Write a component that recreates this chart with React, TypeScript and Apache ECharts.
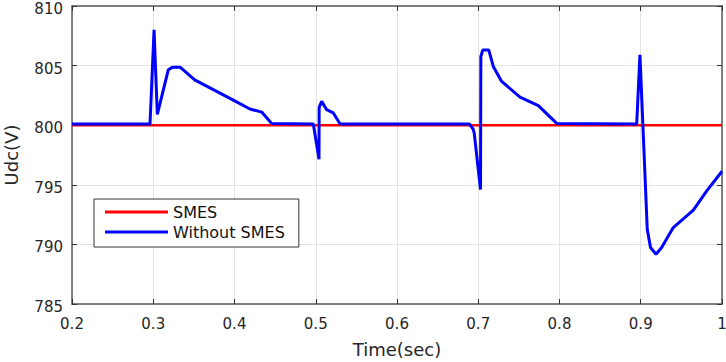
import React, { useEffect, useRef } from "react";
import * as echarts from "echarts";

const xTicks = [0.2, 0.3, 0.4, 0.5, 0.6, 0.7, 0.8, 0.9, 1.0];
const yTicks = [785, 790, 795, 800, 805, 810];

const smesTime = [0.2, 1.0];
const smesValues = [800, 800];

const withoutTime = [
  0.2, 0.296, 0.301, 0.305, 0.3185, 0.324, 0.333, 0.351, 0.3985, 0.419, 0.4335, 0.4457,
  0.497, 0.504, 0.5042, 0.5073, 0.5134, 0.5216, 0.53,
  0.689, 0.6935, 0.695, 0.7028, 0.7032, 0.7055, 0.713, 0.7185, 0.7288, 0.7514, 0.7739, 0.7966,
  0.895, 0.899, 0.908, 0.912, 0.9188, 0.9257, 0.94, 0.9647, 0.981, 1.0,
];
const withoutValues = [
  800.1, 800.1, 808.0, 800.9, 804.65, 804.87, 804.87, 803.8, 802.1, 801.36, 801.1, 800.15,
  800.1, 797.15, 801.5, 802.0, 801.3, 801.03, 800.1,
  800.1, 799.7, 799.35, 794.6, 805.76, 806.3, 806.3, 804.93, 803.67, 802.36, 801.64, 800.15,
  800.1, 805.9, 791.27, 789.74, 789.18, 789.74, 791.41, 792.88, 794.47, 796.14,
];

const FONT = "DejaVu Sans";
const TEXT = "#262626";
const AXIS = "#5a5a5a";

export default function App() {
  const ref = useRef<HTMLDivElement>(null);
  useEffect(() => {
    if (!ref.current) return;
    const chart = echarts.init(ref.current, undefined, { renderer: "svg" });
    const xMin = xTicks[0];
    const xMax = xTicks[xTicks.length - 1];
    const yMin = yTicks[0];
    const yMax = yTicks[yTicks.length - 1];
    const fmtX = (v: number) => String(Math.round(v * 10) / 10);
    const splitLine = { show: true, lineStyle: { color: "#e3e3e3", width: 1 } };
    chart.setOption({
      animation: false,
      backgroundColor: "#ffffff",
      textStyle: { fontFamily: FONT },
      grid: { left: 72, right: 4, top: 6, bottom: 58, containLabel: false, outerBoundsMode: "none" },
      legend: {
        orient: "vertical",
        left: 94,
        top: 199,
        backgroundColor: "#ffffff",
        borderColor: "#333333",
        borderWidth: 1,
        borderRadius: 0,
        padding: [5, 14, 7, 11],
        itemGap: 4,
        itemWidth: 63,
        itemHeight: 3,
        icon: "rect",
        textStyle: { fontFamily: FONT, fontSize: 16, color: "#111", lineHeight: 16 },
        data: ["SMES", "Without SMES"],
      },
      xAxis: [
        {
          type: "value",
          min: xMin,
          max: xMax,
          interval: 0.1,
          position: "bottom",
          name: "Time(sec)",
          nameLocation: "middle",
          nameGap: 36,
          nameTextStyle: { fontFamily: FONT, fontSize: 18, color: TEXT },
          axisLine: { show: true, lineStyle: { color: AXIS, width: 1.5 } },
          axisTick: { show: true, inside: true, length: 5, lineStyle: { color: "#333" } },
          axisLabel: { formatter: fmtX, fontFamily: FONT, fontSize: 15, color: TEXT, margin: 12 },
          splitLine,
        },
        {
          type: "value",
          min: xMin,
          max: xMax,
          interval: 0.1,
          position: "top",
          axisLine: { show: true, lineStyle: { color: AXIS, width: 1.5 } },
          axisTick: { show: true, inside: true, length: 5, lineStyle: { color: "#333" } },
          axisLabel: { show: false },
          splitLine: { show: false },
        },
      ],
      yAxis: [
        {
          type: "value",
          min: yMin,
          max: yMax,
          interval: 5,
          position: "left",
          name: "Udc(V)",
          nameLocation: "middle",
          nameGap: 52,
          nameRotate: 90,
          nameTextStyle: { fontFamily: FONT, fontSize: 18, color: TEXT },
          axisLine: { show: true, lineStyle: { color: AXIS, width: 1.5 } },
          axisTick: { show: true, inside: true, length: 5, lineStyle: { color: "#333" } },
          axisLabel: {
            fontFamily: FONT,
            fontSize: 15,
            lineHeight: 6,
            verticalAlign: "top",
            color: TEXT,
            margin: 9,
          },
          splitLine,
        },
        {
          type: "value",
          min: yMin,
          max: yMax,
          interval: 5,
          position: "right",
          axisLine: { show: true, lineStyle: { color: AXIS, width: 1.5 } },
          axisTick: { show: true, inside: true, length: 5, lineStyle: { color: "#333" } },
          axisLabel: { show: false },
          splitLine: { show: false },
        },
      ],
      series: [
        {
          name: "SMES",
          type: "line",
          xAxisIndex: 0,
          yAxisIndex: 0,
          showSymbol: false,
          symbol: "none",
          color: "#ff0000",
          lineStyle: { color: "#ff0000", width: 2.5 },
          data: smesTime.map((t, i) => [t, smesValues[i]]),
          z: 2,
        },
        {
          name: "Without SMES",
          type: "line",
          xAxisIndex: 0,
          yAxisIndex: 0,
          showSymbol: false,
          symbol: "none",
          color: "#0000ff",
          lineStyle: { color: "#0000ff", width: 3 },
          data: withoutTime.map((t, i) => [t, withoutValues[i]]),
          z: 3,
        },
      ],
    });
    return () => chart.dispose();
  }, []);
  return (
    <div
      ref={ref}
      style={{ position: "fixed", left: 0, top: 0, width: 726, height: 362, background: "#fff" }}
    />
  );
}
